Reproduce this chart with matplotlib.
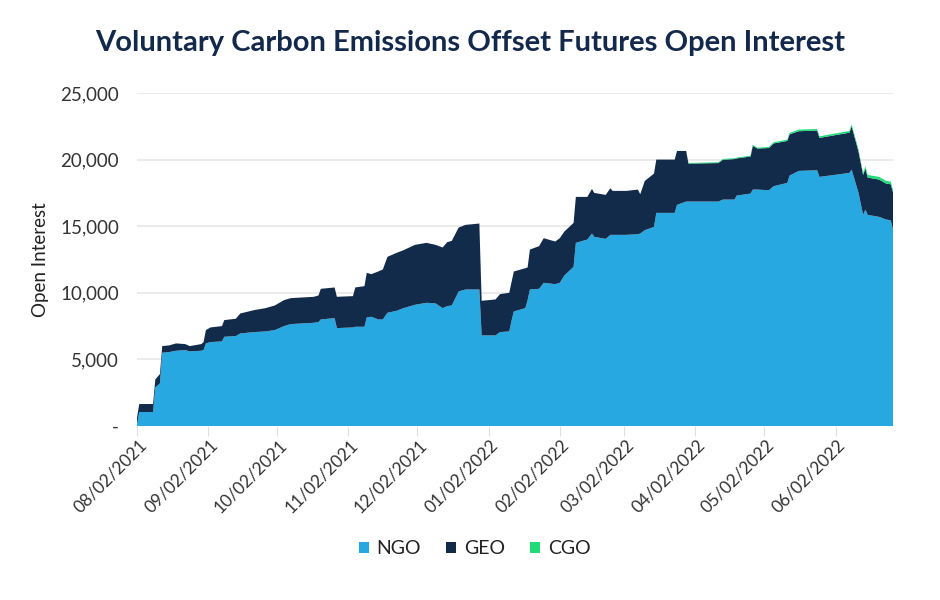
import pandas as pd
import matplotlib.pyplot as plt
import matplotlib.dates as mdates
import matplotlib.transforms as mtransforms
from matplotlib.ticker import FuncFormatter

# === Data (breakpoints of the daily series) ===
dates = [
    "2021-08-02", "2021-08-03", "2021-08-09", "2021-08-10", "2021-08-12", "2021-08-13",
    "2021-08-16", "2021-08-19", "2021-08-23", "2021-08-25", "2021-08-30", "2021-08-31",
    "2021-09-01", "2021-09-03", "2021-09-08", "2021-09-09", "2021-09-14", "2021-09-16",
    "2021-09-22", "2021-09-27", "2021-10-01", "2021-10-05", "2021-10-08", "2021-10-18",
    "2021-10-20", "2021-10-21", "2021-10-27", "2021-10-28", "2021-11-04", "2021-11-05",
    "2021-11-09", "2021-11-10", "2021-11-12", "2021-11-15", "2021-11-17", "2021-11-19",
    "2021-11-23", "2021-11-26", "2021-12-01", "2021-12-06", "2021-12-10", "2021-12-13",
    "2021-12-15", "2021-12-17", "2021-12-20", "2021-12-23", "2021-12-29", "2021-12-30",
    "2022-01-05", "2022-01-07", "2022-01-11", "2022-01-12", "2022-01-13", "2022-01-18",
    "2022-01-19", "2022-01-20", "2022-01-24", "2022-01-26", "2022-01-31", "2022-02-02",
    "2022-02-04", "2022-02-08", "2022-02-09", "2022-02-14", "2022-02-16", "2022-02-17",
    "2022-02-22", "2022-02-24", "2022-02-25", "2022-03-03", "2022-03-08", "2022-03-09",
    "2022-03-11", "2022-03-15", "2022-03-16", "2022-03-24", "2022-03-25", "2022-03-29",
    "2022-03-30", "2022-04-12", "2022-04-14", "2022-04-19", "2022-04-20", "2022-04-26",
    "2022-04-27", "2022-04-29", "2022-05-04", "2022-05-06", "2022-05-12", "2022-05-13",
    "2022-05-17", "2022-05-25", "2022-05-26", "2022-06-08", "2022-06-09", "2022-06-12",
    "2022-06-14", "2022-06-15", "2022-06-16", "2022-06-21", "2022-06-24", "2022-06-26",
    "2022-06-27",
]

ngo = [
    100, 1050, 1050, 2900, 3200, 5500,
    5550, 5650, 5700, 5600, 5650, 5700,
    6200, 6300, 6350, 6700, 6750, 6950,
    7050, 7100, 7200, 7500, 7650, 7750,
    7800, 8000, 8100, 7350, 7400, 7450,
    7450, 8150, 8200, 8000, 8000, 8500,
    8650, 8850, 9100, 9250, 9200, 8850,
    9000, 9050, 10100, 10250, 10250, 6800,
    6800, 7050, 7100, 7900, 8600, 8850,
    9450, 10250, 10300, 10750, 10650, 10750,
    11300, 11950, 13750, 14000, 14450, 14200,
    14050, 14350, 14350, 14350, 14400, 14450,
    14700, 14950, 16000, 16000, 16600, 16850,
    16850, 16850, 17000, 17000, 17300, 17450,
    17750, 17750, 17700, 18000, 18250, 18800,
    19150, 19200, 18700, 19000, 19250, 17500,
    15850, 16250, 15850, 15700, 15500, 15450,
    14750,
]

geo = [
    500, 600, 600, 600, 700, 500,
    500, 550, 450, 400, 500, 600,
    1000, 1100, 1150, 1250, 1300, 1500,
    1650, 1750, 1850, 1950, 1950, 1950,
    2000, 2300, 2300, 2350, 2350, 2950,
    3050, 3350, 3200, 3600, 3750, 4200,
    4350, 4350, 4500, 4500, 4400, 4550,
    4800, 4850, 4800, 4850, 4950, 2600,
    2700, 2850, 2900, 2900, 3000, 3000,
    2450, 3000, 3200, 3350, 3200, 3350,
    3300, 3300, 3450, 3200, 3350, 3300,
    3300, 3500, 3300, 3300, 3350, 2950,
    3700, 4000, 4000, 4000, 4050, 3800,
    2850, 2890, 2990, 3040, 2790, 2780,
    3280, 3080, 3170, 3210, 3150, 3100,
    2980, 2980, 2930, 3020, 3250, 3100,
    3000, 3070, 2800, 2800, 2700, 2700,
    2800,
]

cgo = [0] * 78 + [
    50, 60, 60, 60, 60, 70,
    70, 70, 80, 90, 100, 100,
    120, 120, 120, 130, 150, 150,
    150, 180, 200, 200, 200, 200,
    200,
]

labels = ["NGO", "GEO", "CGO"]
colors = ["#27a8e0", "#132b4a", "#1fdc78"]

x = pd.to_datetime(dates)

plt.rcParams["font.family"] = ["Lato", "DejaVu Sans"]

fig = plt.figure(figsize=(9.4, 6), dpi=100)
ax = fig.add_axes([0.1457, 0.29, 0.8043, 0.555])

polys = ax.stackplot(x, ngo, geo, cgo, colors=colors, labels=labels, linewidth=0)

ax.set_ylim(0, 25000)
ax.set_yticks(range(0, 25001, 5000))
ax.yaxis.set_major_formatter(FuncFormatter(lambda v, p: "-" if v == 0 else f"{v:,.0f}"))
ax.set_xlim(x[0], x[-1])

ticks = pd.date_range("2021-08-01", "2022-06-01", freq="MS") + pd.Timedelta(days=1)
ax.set_xticks(ticks)
ax.xaxis.set_major_formatter(mdates.DateFormatter("%m/%d/%Y"))

ax.grid(axis="y", color="#e8e8e8", linewidth=1.2)
ax.set_axisbelow(True)
for s in ax.spines.values():
    s.set_visible(False)

ax.tick_params(axis="y", length=0, pad=13, labelsize=13.5, labelcolor="#333333")
ax.tick_params(axis="x", length=7, width=0.8, color="#e0e0e0", pad=5,
               labelsize=12.5, labelcolor="#333333")
shift = mtransforms.ScaledTranslation(0.07, 0, fig.dpi_scale_trans)
for lab in ax.get_xticklabels():
    lab.set_rotation(45)
    lab.set_ha("right")
    lab.set_va("center")
    lab.set_rotation_mode("anchor")
    lab.set_transform(lab.get_transform() + shift)

ax.set_ylabel("Open Interest", fontsize=13.5, color="#222222", labelpad=8)

fig.suptitle("Voluntary Carbon Emissions Offset Futures Open Interest",
             x=0.5, y=0.95, fontsize=21, fontweight="bold", color="#13294b")

fig.legend(handles=polys, labels=labels, loc="center", bbox_to_anchor=(0.505, 0.085),
           ncol=3, frameon=False, fontsize=14, handlelength=0.5, handleheight=0.5,
           handletextpad=0.4, columnspacing=1.3, labelcolor="#222222")

fig.savefig("out.png", dpi=100)
